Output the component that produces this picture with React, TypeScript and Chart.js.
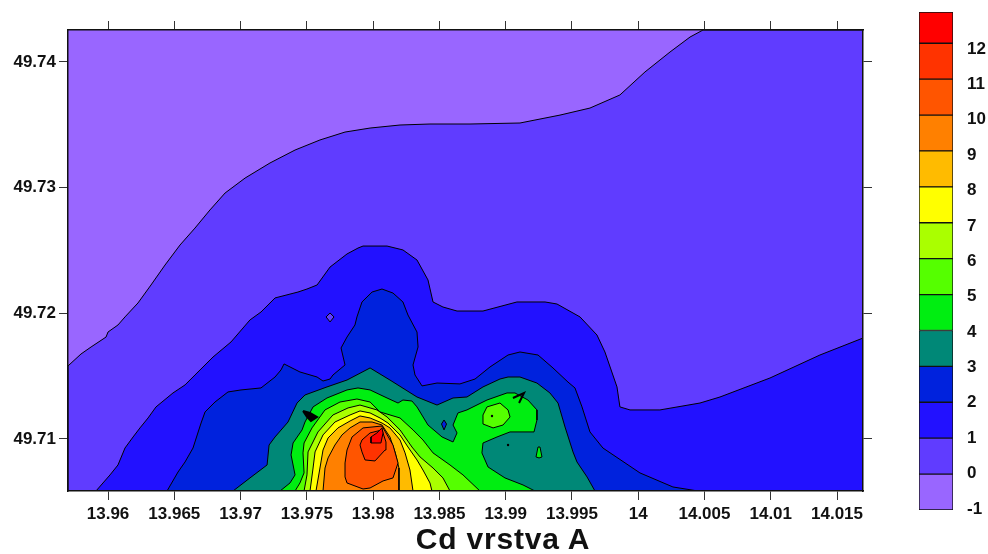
import React, { useEffect, useRef } from "react";
import { Chart, registerables } from "chart.js";

Chart.register(...registerables);

type Pt = [number, number];

// Contours, in thousandths of a degree: [east of 13.9, north of 49.7]
const lonMin = 56.98, lonMax = 116.96, latMin = 5.86, latMax = 42.54;

const plotExtent: Pt[] = [[lonMin, latMin], [lonMin, latMax], [lonMax, latMax], [lonMax, latMin]];

const contour0: Pt[] = [[56.98,15.81],[57.96,16.76],[58.72,17.32],[59.85,18.11],[60,18.51],[60.75,19.07],[61.28,19.71],[62.26,20.82],[63.24,22.25],[64.3,23.84],[65.43,25.43],[66.56,26.78],[67.69,28.22],[68.83,29.57],[70.34,30.76],[72.22,31.96],[74.11,32.99],[75.99,33.79],[77.88,34.42],[79.77,34.74],[82.03,34.98],[84.29,35.06],[87.31,35.06],[91.08,35.14],[94.1,35.77],[96.36,36.33],[98.62,37.37],[100.51,39.2],[102.4,40.79],[103.91,41.98],[104.89,42.54],[116.96,42.54],[116.96,5.86],[56.98,5.86]];

const contour1: Pt[] = [[59.09,5.86],[60.15,7.14],[60.75,7.93],[61.28,9.28],[61.89,10.16],[62.41,10.88],[63.02,11.67],[63.62,12.55],[64.9,13.66],[65.81,14.3],[66.56,15.09],[67.92,16.52],[69.28,17.72],[70.71,19.47],[71.54,20.1],[72.6,21.22],[74.33,21.69],[75.01,21.93],[75.77,22.25],[76.75,23.68],[78.03,24.72],[78.86,25.19],[79.24,25.35],[81.05,25.35],[82.25,25.04],[83.31,24.24],[84.14,22.65],[84.52,20.9],[85.27,20.5],[86.33,20.18],[88.29,20.18],[90.85,20.9],[92.97,20.9],[93.87,20.74],[95.61,19.71],[96.89,18.27],[97.49,16.92],[98.4,14.14],[98.62,12.55],[99.38,12.31],[101.64,12.31],[104.66,12.86],[106.17,13.34],[109.94,14.85],[113.71,16.68],[116.96,18.03],[116.96,5.86]];

const island0: Pt[] = [[76.45,19.71],[76.75,20.02],[77.05,19.71],[76.75,19.31]];

const contour2: Pt[] = [[64.45,5.86],[65.28,7.37],[65.81,8.17],[66.41,9.28],[67.02,11.27],[67.32,12.15],[68.07,12.94],[69.05,13.74],[70.03,13.9],[71.54,14.06],[72.6,14.93],[73.05,15.49],[73.28,15.97],[74.48,15.33],[75.77,14.93],[76.22,14.61],[76.75,14.77],[76.97,15.09],[77.88,15.89],[77.58,17.24],[78.03,18.11],[78.63,19.07],[78.78,19.71],[79.16,20.9],[79.92,21.69],[80.67,21.93],[81.5,21.61],[82.25,20.9],[82.63,19.86],[83.31,18.51],[83.39,17.32],[83.01,15.89],[83.16,15.09],[83.69,14.22],[84.82,14.45],[86.55,14.38],[87.69,14.77],[88.82,15.73],[90.18,16.68],[91.08,16.92],[92.44,16.68],[93.57,15.65],[94.7,14.53],[95.23,14.06],[95.76,12.55],[96.36,10.56],[97.34,9.28],[100.13,7.3],[102.62,6.18],[104.51,5.86]];

const contour3: Pt[] = [[69.43,5.86],[70.71,6.9],[72,7.93],[72.15,9.52],[72.6,10.16],[73.58,11.35],[74.26,12.86],[74.86,13.5],[76.52,14.14],[78.03,14.69],[79.77,15.65],[81.27,14.69],[83.31,13.34],[84.82,12.7],[86.03,13.26],[87.08,13.34],[88.29,14.14],[89.57,14.77],[90.18,14.93],[91.08,14.93],[92.36,14.45],[93.34,13.66],[93.95,12.86],[94.48,10.95],[95.08,8.97],[95.38,8.17],[96.14,6.98],[96.74,5.86]];

const island2: Pt[] = [[85.16,11.19],[85.35,11.51],[85.54,11.19],[85.35,10.72]];

const contour4: Pt[] = [[72.98,5.86],[73.73,6.5],[74.11,7.14],[73.81,8.73],[73.96,9.68],[74.64,10.72],[74.86,11.35],[75.47,12.55],[76.52,13.26],[78.03,13.9],[78.86,14.06],[79.77,13.9],[81.05,13.26],[81.88,12.86],[82.25,13.1],[82.93,13.02],[83.31,12.55],[84.14,11.11],[85.2,10.16],[86.03,9.76],[86.33,10.48],[86.03,11.11],[86.4,12.07],[87.08,12.31],[88.59,13.1],[90.1,13.66],[90.7,13.66],[91.68,13.1],[92.36,12.31],[92.36,11.51],[92.14,10.56],[90.33,10.56],[89.35,10.16],[88.29,9.68],[88.21,8.89],[88.67,7.77],[89.95,6.9],[91.31,6.34],[92.21,5.86]];

const island4: Pt[] = [[92.29,8.57],[92.44,9.36],[92.59,9.36],[92.74,8.57],[92.52,8.49]];

const contour5: Pt[] = [[74.11,5.86],[74.48,6.5],[74.79,7.3],[74.71,8.89],[74.79,9.68],[75.39,10.88],[76.37,12.31],[77.5,12.94],[78.78,13.18],[79.77,12.94],[80.52,12.15],[82.03,11.67],[83.01,10.72],[83.76,9.92],[84.52,8.89],[85.8,7.93],[86.78,7.14],[88.06,5.86]];

const island5: Pt[] = [[88.29,11.91],[88.59,12.55],[89.57,12.86],[90.18,12.31],[90.33,11.75],[89.8,11.11],[89.05,10.88],[88.29,11.19]];

const contour6: Pt[] = [[74.79,5.86],[75.01,7.14],[75.09,8.97],[75.84,10.56],[76.97,11.91],[78.11,12.47],[79.01,12.7],[80.29,12.31],[81.05,11.75],[82.03,10.72],[82.93,9.36],[83.54,8.57],[84.52,7.69],[85.27,6.9],[85.8,5.86]];

const contour7: Pt[] = [[75.24,5.86],[75.47,7.69],[75.62,8.97],[76.22,10.32],[77.12,11.35],[78.26,11.91],[79.01,12.23],[79.77,12.07],[80.52,11.67],[81.12,11.27],[82.03,10.32],[82.63,9.36],[83.31,8.33],[83.76,7.53],[84.29,6.5],[84.44,5.86]];

const contour8: Pt[] = [[75.69,5.86],[75.99,7.69],[76.22,9.12],[76.6,10.08],[77.35,10.88],[78.26,11.43],[79.01,11.83],[79.77,11.67],[80.67,11.27],[81.27,10.88],[82.03,9.92],[82.41,8.89],[82.78,7.53],[83.01,5.86]];

const contour9: Pt[] = [[76.22,5.86],[76.37,7.69],[76.6,8.49],[77.12,9.52],[77.65,10.32],[78.26,10.88],[79.01,11.35],[79.92,11.35],[80.67,11.11],[81.27,10.16],[81.65,8.97],[81.95,7.69],[81.95,5.86]];

const contour10: Pt[] = [[77.88,8.09],[78.03,9.12],[78.41,10.16],[79.24,10.88],[80.67,11.03],[81.5,9.52],[81.88,8.09],[81.5,6.9],[80.75,6.66],[79.77,6.1],[79.24,6.02],[78.03,6.5],[77.88,6.98]];

const contour11: Pt[] = [[79.01,9.52],[79.16,8.97],[79.39,8.33],[80.14,8.25],[80.9,9.12],[80.97,9.76],[80.67,10.72],[79.77,10.48],[79.16,9.92]];

const contour12: Pt[] = [[79.84,10.16],[79.84,9.68],[80.59,9.68],[80.75,10.48],[80.67,10.88],[80.29,10.48]];

const tightBlob: Pt[] = [[74.71,12.23],[75.24,12.07],[75.77,11.75],[75.31,11.43],[75.01,11.75]];
const tightMark: Pt[] = [[90.55,13.26],[91.38,13.66],[91.01,12.86]];
const tightDots: Pt[] = [[88.97,11.83],[90.18,9.52]];

const levelColors = ["#9966FF","#603CFF","#2211FF","#0022DD","#008877","#00EE11","#55FF00","#AAFF00","#FFFF00","#FFBB00","#FF8000","#FF5500","#FF3300","#FF0000"];
const cbBounds = [-1,0,1,2,3,4,5,6,7,8,9,10,11,12,12.87];
const cbTicks = [-1,0,1,2,3,4,5,6,7,8,9,10,11,12];
const lonTicks = [13.96,13.965,13.97,13.975,13.98,13.985,13.99,13.995,14,14.005,14.01,14.015];
const latTicks = [49.71,49.72,49.73,49.74];
const xTitle = "Cd vrstva A";

const toXY = (pts: Pt[]) => pts.map(([a, b]) => ({ x: 13.9 + a / 1000, y: 49.7 + b / 1000 }));
const closed = (pts: Pt[]) => toXY([...pts, pts[0]]);

const fontFamily = "'Liberation Sans', Arial, sans-serif";
const tickFont = { family: fontFamily, size: 17, weight: "bold" as const };

const polygon = (pts: Pt[], color: string, border: number) => ({
  data: closed(pts),
  showLine: true,
  fill: "shape",
  backgroundColor: color,
  borderColor: "#000000",
  borderWidth: border,
  pointRadius: 0,
  tension: 0,
  xAxisID: "x",
  yAxisID: "y",
});

export default function App() {
  const mainRef = useRef<HTMLCanvasElement>(null);
  const barRef = useRef<HTMLCanvasElement>(null);

  useEffect(() => {
    const layers = [
      polygon(plotExtent, levelColors[0], 0),
      polygon(contour0, levelColors[1], 1),
      polygon(contour1, levelColors[2], 1),
      polygon(island0, levelColors[1], 1),
      polygon(contour2, levelColors[3], 1),
      polygon(contour3, levelColors[4], 1),
      polygon(island2, levelColors[3], 1),
      polygon(contour4, levelColors[5], 1),
      polygon(island4, levelColors[5], 1),
      polygon(contour5, levelColors[6], 1),
      polygon(island5, levelColors[6], 1),
      polygon(contour6, levelColors[7], 1),
      polygon(contour7, levelColors[8], 1),
      polygon(contour8, levelColors[9], 1),
      polygon(contour9, levelColors[10], 1),
      polygon(contour10, levelColors[11], 1),
      polygon(contour11, levelColors[12], 1),
      polygon(contour12, levelColors[13], 1),
      polygon(tightBlob, "#000000", 2),
      { data: toXY(tightMark), showLine: true, fill: false, borderColor: "#000000", borderWidth: 2, pointRadius: 0, tension: 0 },
      { data: toXY(tightDots), showLine: false, pointRadius: 1.2, backgroundColor: "#000000", borderWidth: 0 },
    ];
    const xRange = { min: 13.9 + lonMin / 1000, max: 13.9 + lonMax / 1000 };
    const yRange = { min: 49.7 + latMin / 1000, max: 49.7 + latMax / 1000 };
    const axisCommon = {
      border: { display: true, color: "#111111", width: 1.5, z: 1 },
      grid: { drawOnChartArea: false, drawTicks: true, tickLength: 9, color: "#333333", lineWidth: 1 },
    };
    const setLon = (s: any) => { s.ticks = lonTicks.map((value) => ({ value })); };
    const setLat = (s: any) => { s.ticks = latTicks.map((value) => ({ value })); };
    const main = new Chart(mainRef.current!, {
      type: "scatter",
      data: { datasets: layers.map((d, i) => ({ ...d, order: layers.length - i })) as any },
      options: {
        responsive: false,
        animation: false,
        events: [],
        layout: { padding: 0 },
        plugins: { legend: { display: false }, tooltip: { enabled: false } },
        scales: {
          x: {
            type: "linear", position: "bottom", ...xRange, ...axisCommon,
            afterBuildTicks: setLon,
            afterFit: (s: any) => { s.height = 63; },
            ticks: {
              font: tickFont, color: "#111111", padding: 4, autoSkip: false, maxRotation: 0,
              callback: (v: any) => String(+Number(v).toFixed(3)),
            },
          },
          xTop: {
            type: "linear", position: "top", ...xRange, ...axisCommon,
            afterBuildTicks: setLon,
            afterFit: (s: any) => { s.height = 30; },
            ticks: { display: false },
          },
          y: {
            type: "linear", position: "left", ...yRange, ...axisCommon,
            afterBuildTicks: setLat,
            afterFit: (s: any) => { s.width = 68; },
            ticks: {
              font: tickFont, color: "#111111", padding: 3, autoSkip: false,
              callback: (v: any) => String(+Number(v).toFixed(2)),
            },
          },
          yRight: {
            type: "linear", position: "right", ...yRange, ...axisCommon,
            afterBuildTicks: setLat,
            afterFit: (s: any) => { s.width = 125; },
            ticks: { display: false },
          },
        } as any,
      },
    });

    const bar = new Chart(barRef.current!, {
      type: "bar",
      data: {
        labels: ["levels"],
        datasets: levelColors.map((c, i) => ({
          data: [[cbBounds[i], cbBounds[i + 1]]],
          backgroundColor: c,
          borderColor: "#111111",
          borderWidth: 1,
          borderSkipped: false,
          grouped: false,
          barPercentage: 1,
          categoryPercentage: 1,
          yAxisID: "y",
        })) as any,
      },
      options: {
        responsive: false,
        animation: false,
        events: [],
        layout: { autoPadding: false, padding: { top: 12, bottom: 13 } },
        plugins: { legend: { display: false }, tooltip: { enabled: false } },
        scales: {
          x: { display: false },
          y: { display: false, min: -1, max: 12.87 },
          cb: {
            type: "linear", position: "right", min: -1.028, max: 13.04,
            border: { display: false },
            grid: { display: false, drawTicks: false },
            afterBuildTicks: (s: any) => { s.ticks = cbTicks.map((value) => ({ value })); },
            afterFit: (s: any) => { s.width = 35; s.paddingTop = 0; s.paddingBottom = 0; },
            ticks: {
              font: tickFont, color: "#111111", padding: 14, autoSkip: false,
              callback: (v: any) => String(v),
            },
          },
        } as any,
      },
    });

    return () => { main.destroy(); bar.destroy(); };
  }, []);

  return (
    <div style={{ position: "fixed", left: 0, top: 0, width: 988, height: 554, background: "#ffffff", overflow: "hidden" }}>
      <canvas ref={mainRef} width={988} height={554} style={{ position: "absolute", left: 0, top: 0 }} />
      <canvas ref={barRef} width={69} height={523} style={{ position: "absolute", left: 919, top: 0 }} />
      <div style={{ position: "absolute", left: 403, width: 200, top: 522, textAlign: "center", fontFamily, fontWeight: "bold", fontSize: 30, letterSpacing: 0.8, color: "#111111", whiteSpace: "nowrap", lineHeight: "34px" }}>{xTitle}</div>
    </div>
  );
}
